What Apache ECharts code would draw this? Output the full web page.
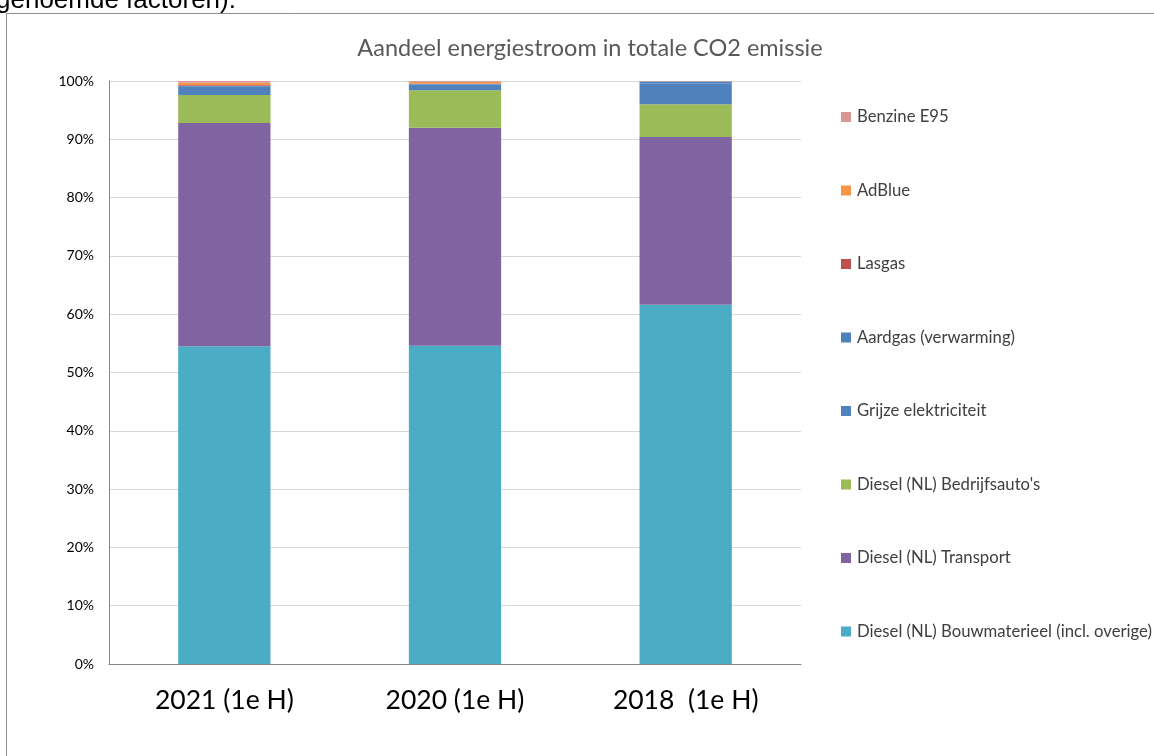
<!DOCTYPE html>
<html><head><meta charset="utf-8">
<script src="https://cdn.jsdelivr.net/npm/echarts@6/dist/echarts.min.js"></script>
<style>html,body{margin:0;padding:0;background:#fff;}#c{width:1154px;height:756px;}</style>
</head><body><div id="c"></div>
<script>
const categories = ['2021 (1e H)', '2020 (1e H)', '2018  (1e H)'];
const bouwmaterieel = [54.5, 54.6, 61.6];
const transport = [38.3, 37.4, 28.8];
const bedrijfsautos = [4.8, 6.4, 5.6];
const grijzeElektriciteit = [1.4, 1.0, 3.6];
const aardgas = [0.2, 0.1, 0.3];
const lasgas = [0.1, 0.05, 0.0];
const adblue = [0.4, 0.3, 0.05];
const benzine = [0.3, 0.15, 0.05];
const yTicks = [0, 10, 20, 30, 40, 50, 60, 70, 80, 90, 100];

const seriesDefs = [
  ['Diesel (NL) Bouwmaterieel (incl. overige)', bouwmaterieel, '#4BACC6'],
  ['Diesel (NL) Transport', transport, '#8064A2'],
  ["Diesel (NL) Bedrijfsauto's", bedrijfsautos, '#9BBB59'],
  ['Grijze elektriciteit', grijzeElektriciteit, '#4F81BD'],
  ['Aardgas (verwarming)', aardgas, '#4F81BD'],
  ['Lasgas', lasgas, '#C0504D'],
  ['AdBlue', adblue, '#F79646'],
  ['Benzine E95', benzine, '#D99694']
];
const FONT = 'Lato';
const chart = echarts.init(document.getElementById('c'), null, {renderer: 'canvas'});
chart.setOption({
  animation: false,
  backgroundColor: '#fff',
  title: {
    text: 'Aandeel energiestroom in totale CO2 emissie',
    left: 585, top: 31, textAlign: 'center',
    textStyle: {color: '#595959', fontSize: 23.5, fontWeight: 'normal', fontFamily: FONT}
  },
  graphic: [
    {type: 'rect', shape: {x: 6.5, y: 13.5, width: 1200, height: 800}, style: {fill: 'none', stroke: '#8c8c8c', lineWidth: 1}, silent: true},
    {type: 'text', left: -4, top: -12, style: {text: 'genoemde factoren).', font: '26px "Liberation Sans", Arial', fill: '#000'}}
  ],
  legend: {
    orient: 'vertical', left: 841, top: 108.5, padding: 0,
    itemWidth: 10, itemHeight: 10, itemGap: 56.5,
    data: seriesDefs.map(s => s[0]).reverse(),
    textStyle: {color: '#404040', fontSize: 16.7, lineHeight: 17, fontFamily: FONT, padding: [0,0,0,1]},
    icon: 'rect'
  },
  grid: {left: 109, right: 353, top: 81, bottom: 92},
  xAxis: {
    type: 'category', data: categories,
    axisLine: {lineStyle: {color: '#868686'}},
    axisTick: {show: false},
    axisLabel: {color: '#000', fontSize: 26.5, fontFamily: FONT, margin: 23}
  },
  yAxis: {
    type: 'value', min: 0, max: 100, interval: 10,
    axisLine: {show: true, lineStyle: {color: '#868686'}},
    axisTick: {show: false},
    splitLine: {lineStyle: {color: '#d9d9d9'}},
    axisLabel: {color: '#000', fontSize: 14, fontFamily: FONT, margin: 15, formatter: v => yTicks.includes(v) ? v + '%' : ''}
  },
  series: seriesDefs.map(s => ({
    name: s[0], type: 'bar', stack: 'total', data: s[1], barWidth: '40%',
    itemStyle: {color: s[2]}
  }))
});
</script></body></html>
